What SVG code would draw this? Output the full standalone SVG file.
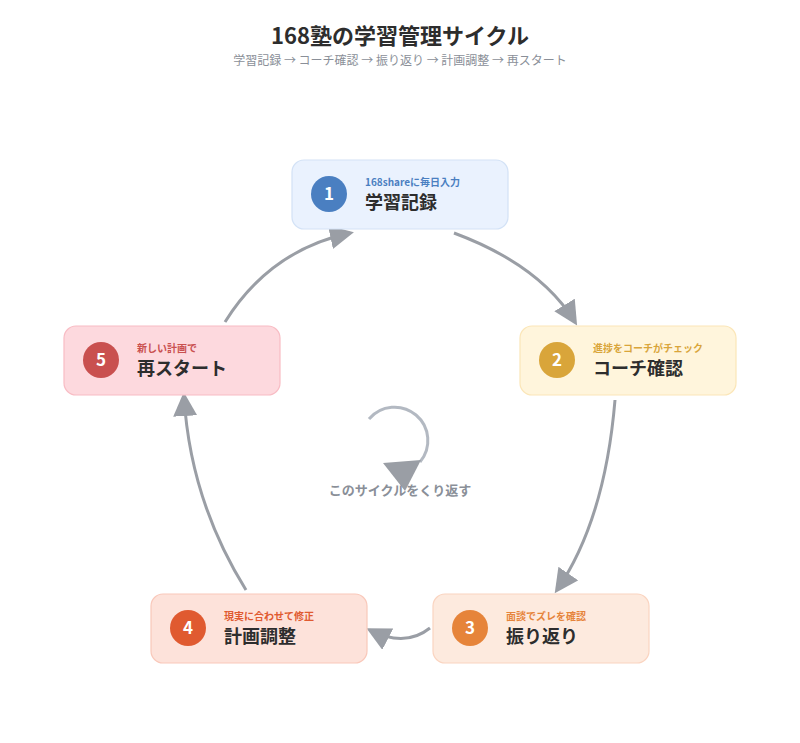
<svg xmlns="http://www.w3.org/2000/svg" width="800" height="743" viewBox="0 0 800 743">
<style>
text{font-family:"Noto Sans CJK JP","Noto Sans",sans-serif}
.t{font-size:22px;font-weight:700;fill:#2d2d2d;text-anchor:middle}
.st{font-size:12px;fill:#8a8f98;text-anchor:middle}
.box{stroke-width:1.2}
.num{font-size:17px;font-weight:700;fill:#fff;text-anchor:middle}
.sub{font-size:10px;font-weight:700}
.main{font-size:18px;font-weight:700;fill:#2d2d2d}
.c{fill:none;stroke:#9a9ea5;stroke-width:3}
</style>
<defs>
<marker id="a" markerUnits="userSpaceOnUse" markerWidth="26" markerHeight="26" refX="20" refY="12" orient="auto"><path d="M0,0 L24,12 L0,24 Z" fill="#9a9ea5"/></marker>
</defs>
<rect width="800" height="743" fill="#fff"/>
<text class="t" x="400" y="44">168塾の学習管理サイクル</text>
<text class="st" x="400" y="65">学習記録 → コーチ確認 → 振り返り → 計画調整 → 再スタート</text>
<g id="connectors">
<path class="c" d="M454,233 Q540,265 575,322" marker-end="url(#a)"/>
<path class="c" d="M615,400 Q605,520 557,590" marker-end="url(#a)"/>
<path class="c" d="M430,628 Q405,648 370,630" marker-end="url(#a)"/>
<path class="c" d="M246,590 Q190,500 184,396" marker-end="url(#a)"/>
<path class="c" d="M225,322 Q270,250 350,233" marker-end="url(#a)"/>
<path d="M369,419 A33,33 0 1 1 420,462" fill="none" stroke="#b3b9c2" stroke-width="3"/>
<path d="M383,463 L421,460 L405,491 Z" fill="#9a9ea5"/>
<text x="400" y="495" style="font-size:13px;font-weight:700;fill:#8a8f98;text-anchor:middle">このサイクルをくり返す</text>
</g>
<g id="n1"><rect class="box" x="292" y="160" width="216" height="69" rx="12" fill="#eaf2fe" stroke="#d3e2f6"/><circle cx="329" cy="194" r="18" fill="#4a7fc1"/><text class="num" x="329" y="200">1</text><text class="sub" x="365" y="186" fill="#4a7fc1">168shareに毎日入力</text><text class="main" x="365" y="209">学習記録</text></g>
<g id="n2"><rect class="box" x="520" y="326" width="216" height="69" rx="12" fill="#fff5dc" stroke="#fbe6b8"/><circle cx="557" cy="360" r="18" fill="#d9a53a"/><text class="num" x="557" y="366">2</text><text class="sub" x="593" y="352" fill="#d9a53a">進捗をコーチがチェック</text><text class="main" x="593" y="375">コーチ確認</text></g>
<g id="n3"><rect class="box" x="433" y="594" width="216" height="69" rx="12" fill="#fdeade" stroke="#fad4c0"/><circle cx="470" cy="628" r="18" fill="#e6843a"/><text class="num" x="470" y="634">3</text><text class="sub" x="506" y="620" fill="#e6843a">面談でズレを確認</text><text class="main" x="506" y="643">振り返り</text></g>
<g id="n4"><rect class="box" x="151" y="594" width="216" height="69" rx="12" fill="#fde2da" stroke="#f9c8ba"/><circle cx="188" cy="628" r="18" fill="#e05a30"/><text class="num" x="188" y="634">4</text><text class="sub" x="224" y="620" fill="#e05a30">現実に合わせて修正</text><text class="main" x="224" y="643">計画調整</text></g>
<g id="n5"><rect class="box" x="64" y="326" width="216" height="69" rx="12" fill="#fdd9de" stroke="#f8bcc4"/><circle cx="101" cy="360" r="18" fill="#c9504f"/><text class="num" x="101" y="366">5</text><text class="sub" x="137" y="352" fill="#c9504f">新しい計画で</text><text class="main" x="137" y="375">再スタート</text></g>
</svg>
